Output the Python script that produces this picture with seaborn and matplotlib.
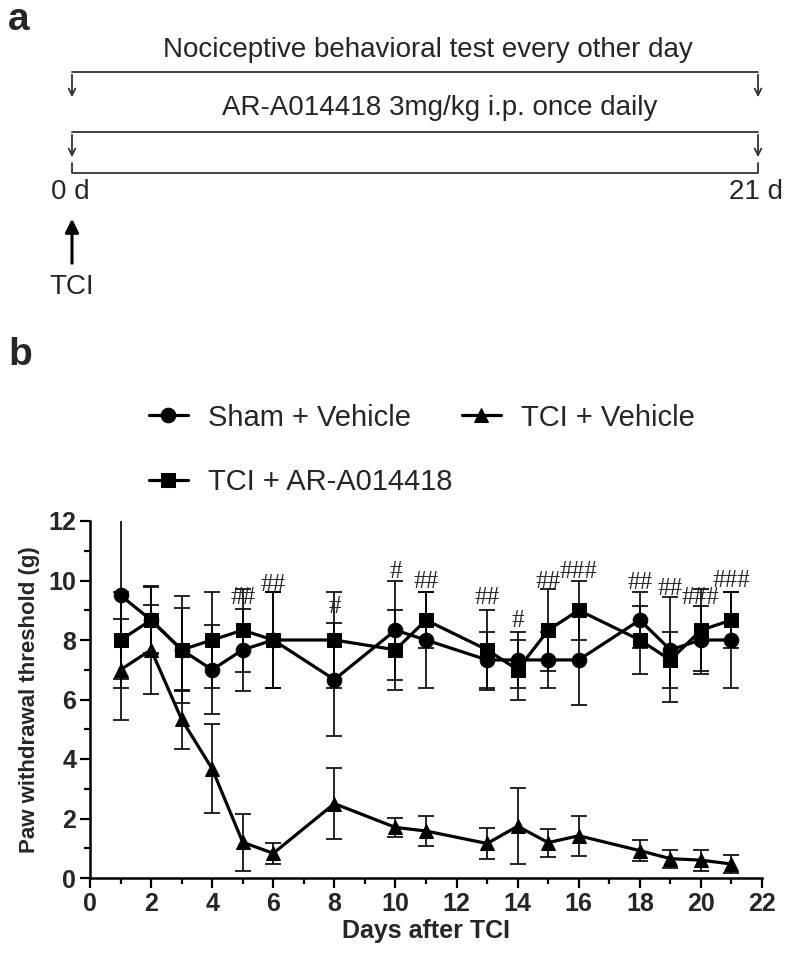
import matplotlib
matplotlib.use("Agg")
import matplotlib.pyplot as plt
import seaborn as sns
import pandas as pd
from matplotlib.ticker import MultipleLocator

# values (mean and error)
days = [1, 2, 3, 4, 5, 6, 8, 10, 11, 13, 14, 15, 16, 18, 19, 20, 21]
sham_mean = [9.5, 8.67, 7.67, 7.0, 7.67, 8.0, 6.67, 8.33, 8.0, 7.33, 7.33, 7.33, 7.33, 8.67, 7.67, 8.0, 8.0]
sham_err = [2.8, 1.1, 1.4, 1.5, 1.37, 1.6, 1.9, 1.67, 1.6, 0.95, 0.95, 0.95, 1.5, 0.93, 1.77, 1.15, 1.6]
ar_mean = [8.0, 8.67, 7.67, 8.0, 8.33, 8.0, 8.0, 7.67, 8.67, 7.67, 7.0, 8.33, 9.0, 8.0, 7.33, 8.33, 8.67]
ar_err = [1.6, 1.15, 1.8, 1.6, 1.4, 1.6, 1.6, 1.35, 0.95, 1.35, 1.0, 1.37, 1.0, 1.15, 0.93, 1.37, 0.95]
veh_mean = [7.0, 7.67, 5.33, 3.67, 1.2, 0.83, 2.5, 1.7, 1.58, 1.16, 1.74, 1.19, 1.42, 0.92, 0.65, 0.6, 0.47]
veh_err = [1.7, 1.5, 1.0, 1.5, 0.95, 0.35, 1.2, 0.33, 0.5, 0.52, 1.27, 0.47, 0.68, 0.35, 0.3, 0.35, 0.3]
groups = ["Sham + Vehicle", "TCI + AR-A014418", "TCI + Vehicle"]

sig_days = [5, 6, 8, 10, 11, 13, 14, 15, 16, 18, 19, 20, 21]
sig_labels = ["##", "##", "#", "#", "##", "##", "#", "##", "###", "##", "##", "###", "###"]
sig_y = [9.4, 9.85, 9.1, 10.3, 9.95, 9.4, 8.65, 9.95, 10.3, 9.9, 9.7, 9.4, 9.97]

df = pd.concat([
    pd.DataFrame({"day": days, "value": sham_mean, "err": sham_err, "group": groups[0]}),
    pd.DataFrame({"day": days, "value": ar_mean, "err": ar_err, "group": groups[1]}),
    pd.DataFrame({"day": days, "value": veh_mean, "err": veh_err, "group": groups[2]}),
])

sns.set_theme(style="ticks")
plt.rcParams['font.family'] = ['Liberation Sans', 'DejaVu Sans']

fig = plt.figure(figsize=(7.87, 9.76), dpi=100)

# ---- panel a: timeline drawn in pixel coords
top = fig.add_axes([0, 0, 1, 1])
top.set_xlim(0, 787)
top.set_ylim(976, 0)
top.axis("off")
lc = "#333333"
x0, x1 = 72, 758
top.text(8, 20, "a", fontsize=28, fontweight="bold", ha="left", va="center")
top.text(428, 50, "Nociceptive behavioral test every other day", fontsize=20, ha="center", va="center")
top.text(440, 108, "AR-A014418 3mg/kg i.p. once daily", fontsize=20, ha="center", va="center")
for yb in [72, 132]:
    top.plot([x0, x1], [yb, yb], color=lc, lw=1.3)
    for xa in [x0, x1]:
        top.annotate("", xy=(xa, yb + 28), xytext=(xa, yb),
                     arrowprops=dict(arrowstyle="->", color=lc, lw=1.3, mutation_scale=12))
top.plot([x0, x0, x1, x1], [163, 173, 173, 163], color=lc, lw=1.3)
top.text(70, 192, "0 d", fontsize=20, ha="center", va="center")
top.text(756, 192, "21 d", fontsize=20, ha="center", va="center")
top.annotate("", xy=(x0, 216), xytext=(x0, 266),
             arrowprops=dict(arrowstyle="-|>", color="black", lw=2.2, mutation_scale=20))
top.text(72, 287, "TCI", fontsize=20, ha="center", va="center")
top.text(8, 355, "b", fontsize=28, fontweight="bold", ha="left", va="center")

# ---- panel b
ax = fig.add_axes([90 / 787, 1 - 878 / 976, 672 / 787, 357 / 976])
for g in groups:
    d = df[df["group"] == g]
    ax.errorbar(d["day"], d["value"], yerr=d["err"], fmt="none", ecolor="black",
                elinewidth=1.2, capsize=6, capthick=1.2, zorder=2)
sns.lineplot(data=df, x="day", y="value", hue="group", style="group",
             palette=["black"] * 3, markers=["o", "s", "^"], dashes=False,
             markersize=10.5, linewidth=2.3, markeredgecolor="black", ax=ax, zorder=3)

for xd, lab, yy in zip(sig_days, sig_labels, sig_y):
    ax.text(xd, yy, lab, fontsize=18, family="Liberation Serif", ha="center", va="center")

ax.set_xlim(0, 22)
ax.set_ylim(0, 12)
ax.xaxis.set_major_locator(MultipleLocator(2))
ax.xaxis.set_minor_locator(MultipleLocator(1))
ax.yaxis.set_major_locator(MultipleLocator(2))
ax.yaxis.set_minor_locator(MultipleLocator(1))
ax.tick_params(which="major", length=7, width=1.6, labelsize=18, color="black", pad=3)
ax.tick_params(which="minor", length=4, width=1.6, color="black")
for lab in ax.get_xticklabels() + ax.get_yticklabels():
    lab.set_fontweight("bold")
for s in ["left", "bottom"]:
    ax.spines[s].set_linewidth(1.8)
    ax.spines[s].set_color("black")
sns.despine(ax=ax)
ax.set_xlabel("Days after TCI", fontsize=18, fontweight="bold", labelpad=2)
ax.set_ylabel("Paw withdrawal threshold (g)", fontsize=16, fontweight="bold", labelpad=6)

handles, labels = ax.get_legend_handles_labels()
ax.legend(handles, labels, ncol=2, frameon=False, fontsize=21, loc="upper left",
          bbox_to_anchor=(134 / 787, 1 - 389 / 976), bbox_transform=fig.transFigure,
          borderpad=0, handlelength=1.35, handletextpad=0.7, columnspacing=0.3,
          labelspacing=1.25)

fig.savefig("out.png", dpi=100)
